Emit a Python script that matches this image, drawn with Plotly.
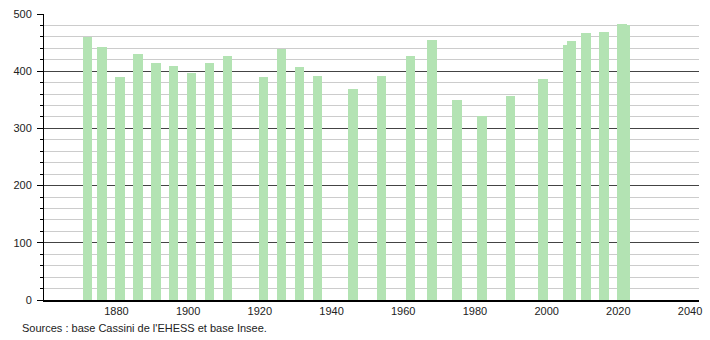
import plotly.graph_objects as go

years = [1872, 1876, 1881, 1886, 1891, 1896, 1901, 1906, 1911, 1921, 1926, 1931, 1936,
         1946, 1954, 1962, 1968, 1975, 1982, 1990, 1999, 2006, 2007, 2011, 2016, 2021, 2022]
population = [459, 443, 390, 430, 415, 409, 397, 415, 426, 390, 439, 407, 391,
              369, 391, 426, 454, 350, 322, 357, 386, 445, 453, 466, 468, 483, 480]
x_ticks = [1880, 1900, 1920, 1940, 1960, 1980, 2000, 2020, 2040]
y_ticks = [0, 100, 200, 300, 400, 500]
source_text = "Sources : base Cassini de l'EHESS et base Insee."

fig = go.Figure()
fig.add_trace(go.Bar(
    x=years, y=population, width=2.6,
    marker=dict(color="#b3e3b3", line=dict(width=0)),
    hoverinfo="x+y",
))

font = dict(family="Liberation Sans, Arial, sans-serif", size=11, color="#222")

fig.update_layout(
    width=710, height=340,
    margin=dict(l=44, r=8, t=10, b=40),
    plot_bgcolor="white", paper_bgcolor="white",
    showlegend=False,
    font=font,
    bargap=0,
    xaxis=dict(
        range=[1859.8, 2042.5],
        tickvals=x_ticks,
        ticktext=[str(v) for v in x_ticks],
        showgrid=False, zeroline=False,
        showline=True, linecolor="black", linewidth=1.5,
        ticks="", tickfont=font,
    ),
    yaxis=dict(
        range=[0, 500],
        tickvals=y_ticks,
        showgrid=True, gridcolor="#444", gridwidth=1,
        zeroline=False,
        showline=True, linecolor="black", linewidth=1,
        ticks="outside", ticklen=6, tickcolor="black", tickwidth=1,
        ticklabelstandoff=3,
        tickfont=font,
        minor=dict(dtick=20, showgrid=True, gridcolor="#cccccc", gridwidth=1,
                   ticks="outside", ticklen=3, tickcolor="black"),
    ),
    annotations=[dict(
        text=source_text, xref="paper", yref="paper",
        x=-0.036, y=-0.0966, xanchor="left", yanchor="middle",
        showarrow=False, font=font,
    )],
)

fig.write_html("out.html")
